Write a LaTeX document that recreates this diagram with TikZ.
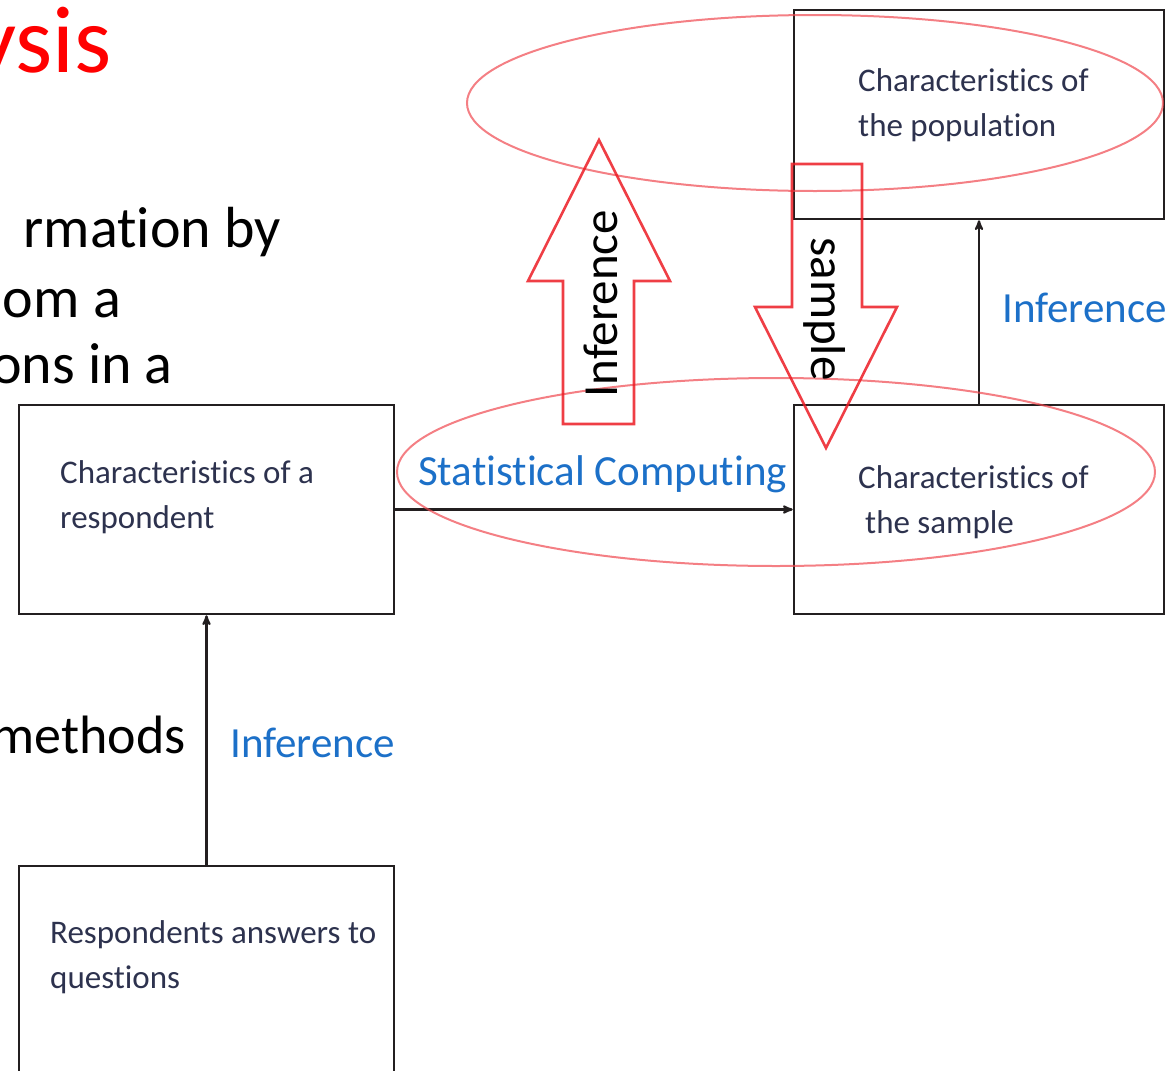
\documentclass[tikz,border=0pt]{standalone}
\usepackage{fontspec}
\setmainfont{Carlito}[Ligatures=NoCommon]
\usetikzlibrary{arrows,positioning}
\definecolor{inkblue}{RGB}{28,112,200}
\definecolor{boxink}{RGB}{45,50,78}
\definecolor{lineblack}{RGB}{35,31,32}
\definecolor{markred}{RGB}{236,28,36}

\begin{document}
\begin{tikzpicture}[x=1pt,y=-1pt,>=stealth']
  \tikzstyle{box}=[rectangle,draw=lineblack,line width=2.6pt,
                   minimum width=375pt,minimum height=209pt,inner sep=0pt]
  \tikzstyle{box text}=[align=left,inner sep=0pt,anchor=north west,
                        text=boxink,font=\fontsize{33}{45}\selectfont]
  \tikzstyle{flow}=[->,draw=lineblack,line width=2.2pt]
  \tikzstyle{blue label}=[inner sep=0pt,anchor=base west,text=inkblue,
                          font=\fontsize{43}{50}\selectfont]
  \tikzstyle{slide text}=[inner sep=0pt,anchor=base east,
                          font=\fontsize{58}{68}\selectfont]
  \tikzstyle{ring}=[draw=markred!80,line width=2pt,opacity=0.7]
  \tikzstyle{fat arrow}=[draw=markred,line width=2.6pt,opacity=0.85]
  \tikzstyle{arrow text}=[inner sep=0pt,font=\fontsize{49}{56}\selectfont]

  \clip (0,0) rectangle (1176,1071);

  % slide text, cut off on the left
  \node[slide text,text=red,font=\fontsize{95}{110}\selectfont] (title) at (112,72) {ysis};
  \node[slide text] (body1) at (281,247) {rmation by};
  \node[slide text] (body2) at (121,317) {om a};
  \node[slide text] (body3) at (173,383) {ons in a};
  \node[slide text,font=\fontsize{54}{64}\selectfont] (body4) at (186,753) {methods};

  % boxes
  \node[box] (resp) at (206.5,509.5) {};
  \node[box] (answ) at (206.5,970.5) {};
  \node[box,minimum width=370pt] (popu) at (979,114.5) {};
  \node[box,minimum width=370pt] (samp) at (979,509.5) {};

  \node[box text] (resptext) at (60,460) {Characteristics of a\\respondent};
  \node[box text] (answtext) at (50,920) {Respondents answers to\\questions};
  \node[box text] (poputext) at (858,68) {Characteristics of\\the population};
  \node[box text] (samptext) at (858,465) {Characteristics of\\\hspace*{7pt}the sample};

  % connectors
  \draw[flow] (answ) -- (resp);
  \draw[flow] (resp) -- (samp);
  \draw[flow] (samp) -- (popu);

  \node[blue label] (inf1) at (230,757) {Inference};
  \node[blue label] (stat) at (418,485) {Statistical Computing};
  \node[blue label] (inf2) at (1002,322) {Inference};

  % red marks
  \draw[ring] (815,103) ellipse [x radius=348pt,y radius=88pt];
  \draw[ring] (776,472) ellipse [x radius=379pt,y radius=94pt];

  \draw[fat arrow] (563,424) -- (563,281) -- (528,281) -- (599,140)
    -- (670,281) -- (634,281) -- (634,424) -- cycle;
  \draw[fat arrow] (792,164) -- (862,164) -- (862,307) -- (897,307)
    -- (826,448) -- (755,307) -- (792,307) -- cycle;

  \node[arrow text,rotate=90] (upword) at (601,304) {Inference};
  \node[arrow text,rotate=-90] (downword) at (825,309) {sample};
\end{tikzpicture}
\end{document}
